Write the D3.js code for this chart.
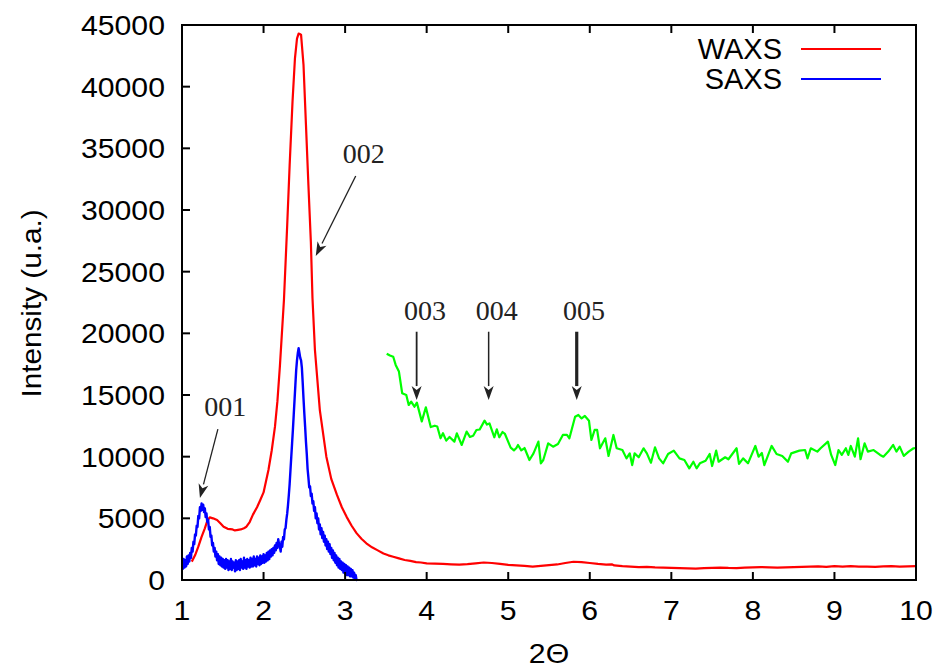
<!DOCTYPE html>
<html><head><meta charset="utf-8">
<script src="https://cdn.jsdelivr.net/npm/d3@7/dist/d3.min.js"></script>
<style>body{margin:0;background:#fff}svg{display:block}</style>
</head><body><svg id="c" width="940" height="669"></svg>
<script>
// ---------- data ----------
const xTicks = [1,2,3,4,5,6,7,8,9,10];
const yTicks = [0,5000,10000,15000,20000,25000,30000,35000,40000,45000];
const seriesNames = ["WAXS","SAXS"];

// WAXS (red) [2Θ, intensity]
const waxsX = [1.12,1.16,1.20,1.24,1.28,1.31,1.34,1.38,1.43,1.47,1.51,1.56,1.62,1.65,1.67,1.72,1.76,1.79,1.83,1.87,1.92,1.96,2.00,2.03,2.06,2.10,2.14,2.17,2.20,2.25,2.29,2.32,2.355,2.385,2.41,2.43,2.45,2.46,2.49,2.52,2.55,2.58,2.60,2.63,2.69,2.77,2.83,2.90,2.96,3.02,3.08,3.14,3.20,3.26,3.33,3.40,3.47,3.53,3.59,3.66,3.73,3.80,3.87,3.93,4.00,4.10,4.20,4.30,4.40,4.50,4.60,4.70,4.80,4.90,5.00,5.10,5.20,5.30,5.40,5.50,5.60,5.70,5.80,5.90,6.00,6.10,6.20,6.27,6.30,6.40,6.50,6.60,6.70,6.80,6.90,7.00,7.10,7.20,7.30,7.40,7.50,7.60,7.70,7.80,7.90,8.00,8.10,8.20,8.30,8.40,8.50,8.60,8.70,8.80,8.90,9.00,9.10,9.20,9.30,9.40,9.50,9.60,9.70,9.80,9.90,10.0];
const waxsY = [1490,2000,2700,3500,4190,4800,5080,5000,4860,4600,4320,4150,4100,4020,4050,4100,4200,4320,4700,5300,5900,6490,7100,8000,8920,10500,12430,14500,17300,22700,28780,33650,38770,42300,43900,44300,44250,44200,41760,36900,32030,27430,22840,18650,13780,10000,8200,6900,5900,5100,4400,3800,3350,2975,2650,2400,2150,2000,1890,1750,1620,1550,1450,1420,1350,1320,1300,1270,1250,1280,1350,1420,1380,1300,1220,1180,1150,1080,1150,1200,1260,1380,1480,1450,1380,1300,1250,1270,1180,1120,1080,1040,1060,1020,1000,980,970,950,930,960,990,1010,980,970,1000,1020,1050,1030,1010,1030,1050,1060,1080,1100,1060,1120,1080,1130,1090,1080,1070,1100,1120,1090,1110,1130];

// SAXS (blue), sampled every 0.01 starting at 2Θ = 1.00
const saxsStart = 1.00, saxsStep = 0.01;
const saxsY = [
1500,900,1700,1000,1600,1100,1900,1300,2000,1500,
2200,1800,2600,2300,3100,2900,3700,3600,4400,4300,
5200,5000,5900,5600,6200,5700,6100,5500,5800,5100,
5400,4700,4900,4100,4300,3500,3600,2800,3000,2300,
2600,1900,2300,1600,2100,1300,1900,1200,1800,1100,
1700,1000,1600,900,1700,1000,1600,800,1500,900,
1700,800,1500,1000,1400,700,1600,800,1500,900,
1600,800,1700,1000,1500,900,1800,1000,1600,900,
1700,1100,1600,1000,1800,1100,1700,1100,1900,1200,
1700,1100,1900,1300,1800,1200,2000,1300,1900,1400,
2100,1400,2000,1500,2200,1600,2300,1700,2400,1900,
2500,2000,2600,2200,2800,2400,3000,2600,3300,2900,
2700,2300,3100,2700,3500,3300,4100,4200,4900,5400,
6100,6900,7800,8900,10000,11100,12200,13400,14600,15800,
17000,17800,18400,18800,18400,18000,17800,17200,16000,14700,
13500,12400,11200,10200,9000,8300,7500,7600,6800,7000,
6200,6400,5600,5900,5000,5400,4600,5000,4100,4500,
3700,4200,3400,3900,3100,3600,2800,3300,2500,3100,
2300,2900,2100,2600,1800,2400,1600,2200,1400,2000,
1200,1800,1000,1700,900,1500,800,1400,600,1300,
500,1200,400,1100,400,1000,300,900,300,800,
200,600,100,400,0,100];

// WAXS high-angle segment (green)
const greenX = [3.51,3.55,3.59,3.62,3.66,3.70,3.75,3.78,3.81,3.85,3.88,3.94,3.99,4.05,4.10,4.13,4.17,4.20,4.24,4.28,4.34,4.37,4.43,4.49,4.53,4.57,4.61,4.65,4.71,4.74,4.77,4.83,4.86,4.89,4.93,4.96,5.03,5.07,5.10,5.12,5.16,5.20,5.26,5.31,5.37,5.40,5.43,5.49,5.55,5.61,5.67,5.72,5.75,5.82,5.86,5.90,5.94,5.99,6.02,6.06,6.09,6.125,6.19,6.23,6.29,6.33,6.40,6.45,6.49,6.52,6.55,6.60,6.66,6.70,6.75,6.80,6.85,6.90,6.96,7.03,7.10,7.16,7.22,7.27,7.31,7.35,7.42,7.47,7.50,7.55,7.58,7.66,7.70,7.80,7.83,7.88,7.94,8.03,8.07,8.11,8.14,8.23,8.29,8.36,8.43,8.47,8.57,8.64,8.67,8.71,8.79,8.83,8.92,8.96,9.01,9.05,9.09,9.14,9.17,9.20,9.25,9.29,9.32,9.37,9.41,9.48,9.56,9.60,9.66,9.72,9.76,9.80,9.85,9.91,9.97,10.0];
const greenY = [18350,18200,18100,17440,16900,15140,15000,14190,14460,14050,14380,12860,14000,12400,12510,12450,11490,11900,11300,11600,11220,11890,10950,12030,11600,11700,12160,12200,12920,12600,12700,11570,12220,11570,12000,11840,10730,10510,10700,10950,10510,10700,9730,10270,11220,9460,9730,11080,10810,11030,11760,11760,11490,13240,13380,13100,13300,12920,11350,12170,12170,10680,11490,10060,11760,10680,10540,9860,10270,9320,10270,9950,10680,10270,9510,10760,9860,9460,10220,10490,9860,9730,9050,9590,9050,9460,9670,10220,9240,10490,9590,9950,9790,10680,9410,9860,9460,10870,10000,10300,9320,10870,10220,10060,9590,10270,10490,10540,9860,10680,10410,10680,11220,10140,9320,10540,10140,10680,10140,10870,10000,11490,9790,11080,10410,10540,10140,10000,10410,10950,10410,10810,10060,10410,10680,10700];

// peak annotations: label, label position, arrow start, arrow tip (data units)
const annLabels = ["001","002","003","004","005"];
const annTextX = [1.53,3.23,3.98,4.86,5.93];
const annTextY = [13300,33810,21080,21080,21080];
const annFromX = [1.44,3.13,3.877,4.76,5.84];
const annFromY = [12240,32760,20130,20130,20130];
const annToX   = [1.22,2.64,3.877,4.76,5.84];
const annToY   = [6650,26270,14590,14590,14590];
const annWidth = [1.3,1.3,1.8,1.5,3.2];

// ---------- chart ----------
const svg = d3.select("#c");
const L = 182, R = 916, T = 25, B = 580;
const x = d3.scaleLinear().domain([1,10]).range([L,R]);
const y = d3.scaleLinear().domain([0,45000]).range([B,T]);
const sans = "'Liberation Sans', Arial, Helvetica, sans-serif";
const serif = "'Liberation Serif', 'DejaVu Serif', serif";
const SX = 1.12; // horizontal stretch of the sans labels

svg.append("clipPath").attr("id","pc").append("rect")
  .attr("x",L).attr("y",T-2).attr("width",R-L).attr("height",B-T+4);

const line = d3.line().x(d=>x(d[0])).y(d=>y(d[1]));
const waxs = waxsX.map((v,i)=>[v,waxsY[i]]);
const saxs = saxsY.map((v,i)=>[saxsStart+i*saxsStep, v]);
const green = greenX.map((v,i)=>[v,greenY[i]]);

const g = svg.append("g").attr("clip-path","url(#pc)");
g.append("path").datum(green).attr("d",line).attr("fill","none").attr("stroke","#00ff00").attr("stroke-width",2.2).attr("stroke-linejoin","round");
g.append("path").datum(waxs).attr("d",line).attr("fill","none").attr("stroke","#ff0000").attr("stroke-width",2.2).attr("stroke-linejoin","round");
g.append("path").datum(saxs).attr("d",line).attr("fill","none").attr("stroke","#0000ff").attr("stroke-width",2.4).attr("stroke-linejoin","round");

// frame and ticks
const ax = svg.append("g").attr("stroke","#000").attr("stroke-width",2).attr("fill","none");
ax.append("rect").attr("x",L).attr("y",T).attr("width",R-L).attr("height",B-T);
xTicks.forEach(t=>{
  ax.append("line").attr("x1",x(t)).attr("x2",x(t)).attr("y1",B).attr("y2",B-8);
  ax.append("line").attr("x1",x(t)).attr("x2",x(t)).attr("y1",T).attr("y2",T+8);
});
yTicks.forEach(t=>{
  ax.append("line").attr("x1",L).attr("x2",L+8).attr("y1",y(t)).attr("y2",y(t));
});
svg.append("g").selectAll("text").data(xTicks).join("text")
  .attr("transform",d=>`translate(${x(d)},${B+40}) scale(${SX},1)`).attr("text-anchor","middle")
  .attr("font-family",sans).attr("font-size",27).attr("fill","#000").text(d=>d);
svg.append("g").selectAll("text").data(yTicks).join("text")
  .attr("transform",d=>`translate(${L-17},${y(d)+10}) scale(${SX},1)`).attr("text-anchor","end")
  .attr("font-family",sans).attr("font-size",27).attr("fill","#000").text(d=>d);

svg.append("text").attr("transform",`translate(${x(5.5)},663) scale(${SX},1)`).attr("text-anchor","middle")
  .attr("font-family",sans).attr("font-size",27).text("2Θ");
svg.append("text").attr("transform","translate(41,"+((T+B)/2+1)+") rotate(-90) scale(1.1,1)")
  .attr("text-anchor","middle").attr("font-family",sans).attr("font-size",27).text("Intensity (u.a.)");

// legend
const legColors = ["#ff0000","#0000ff"];
seriesNames.forEach((n,i)=>{
  svg.append("text").attr("x",782).attr("y",59+i*30).attr("text-anchor","end")
    .attr("font-family",sans).attr("font-size",29).text(n);
  svg.append("line").attr("x1",801).attr("x2",881).attr("y1",49+i*30).attr("y2",49+i*30)
    .attr("stroke",legColors[i]).attr("stroke-width",2.2);
});

// annotations
annLabels.forEach((lab,i)=>{
  svg.append("text").attr("x",x(annTextX[i])).attr("y",y(annTextY[i])).attr("text-anchor","middle")
    .attr("font-family",serif).attr("font-size",28).attr("fill","#222").text(lab);
  const x1=x(annFromX[i]), y1=y(annFromY[i]), x2=x(annToX[i]), y2=y(annToY[i]);
  const a=Math.atan2(y2-y1,x2-x1), hl=14, hw=5;
  const bx=x2-hl*Math.cos(a), by=y2-hl*Math.sin(a);
  svg.append("line").attr("x1",x1).attr("y1",y1).attr("x2",bx).attr("y2",by)
    .attr("stroke","#222").attr("stroke-width",annWidth[i]);
  const px=-Math.sin(a), py=Math.cos(a);
  svg.append("path").attr("d",`M${x2},${y2}L${bx+hw*px},${by+hw*py}L${bx+4*Math.cos(a)},${by+4*Math.sin(a)}L${bx-hw*px},${by-hw*py}Z`)
    .attr("fill","#222");
});
</script></body></html>
